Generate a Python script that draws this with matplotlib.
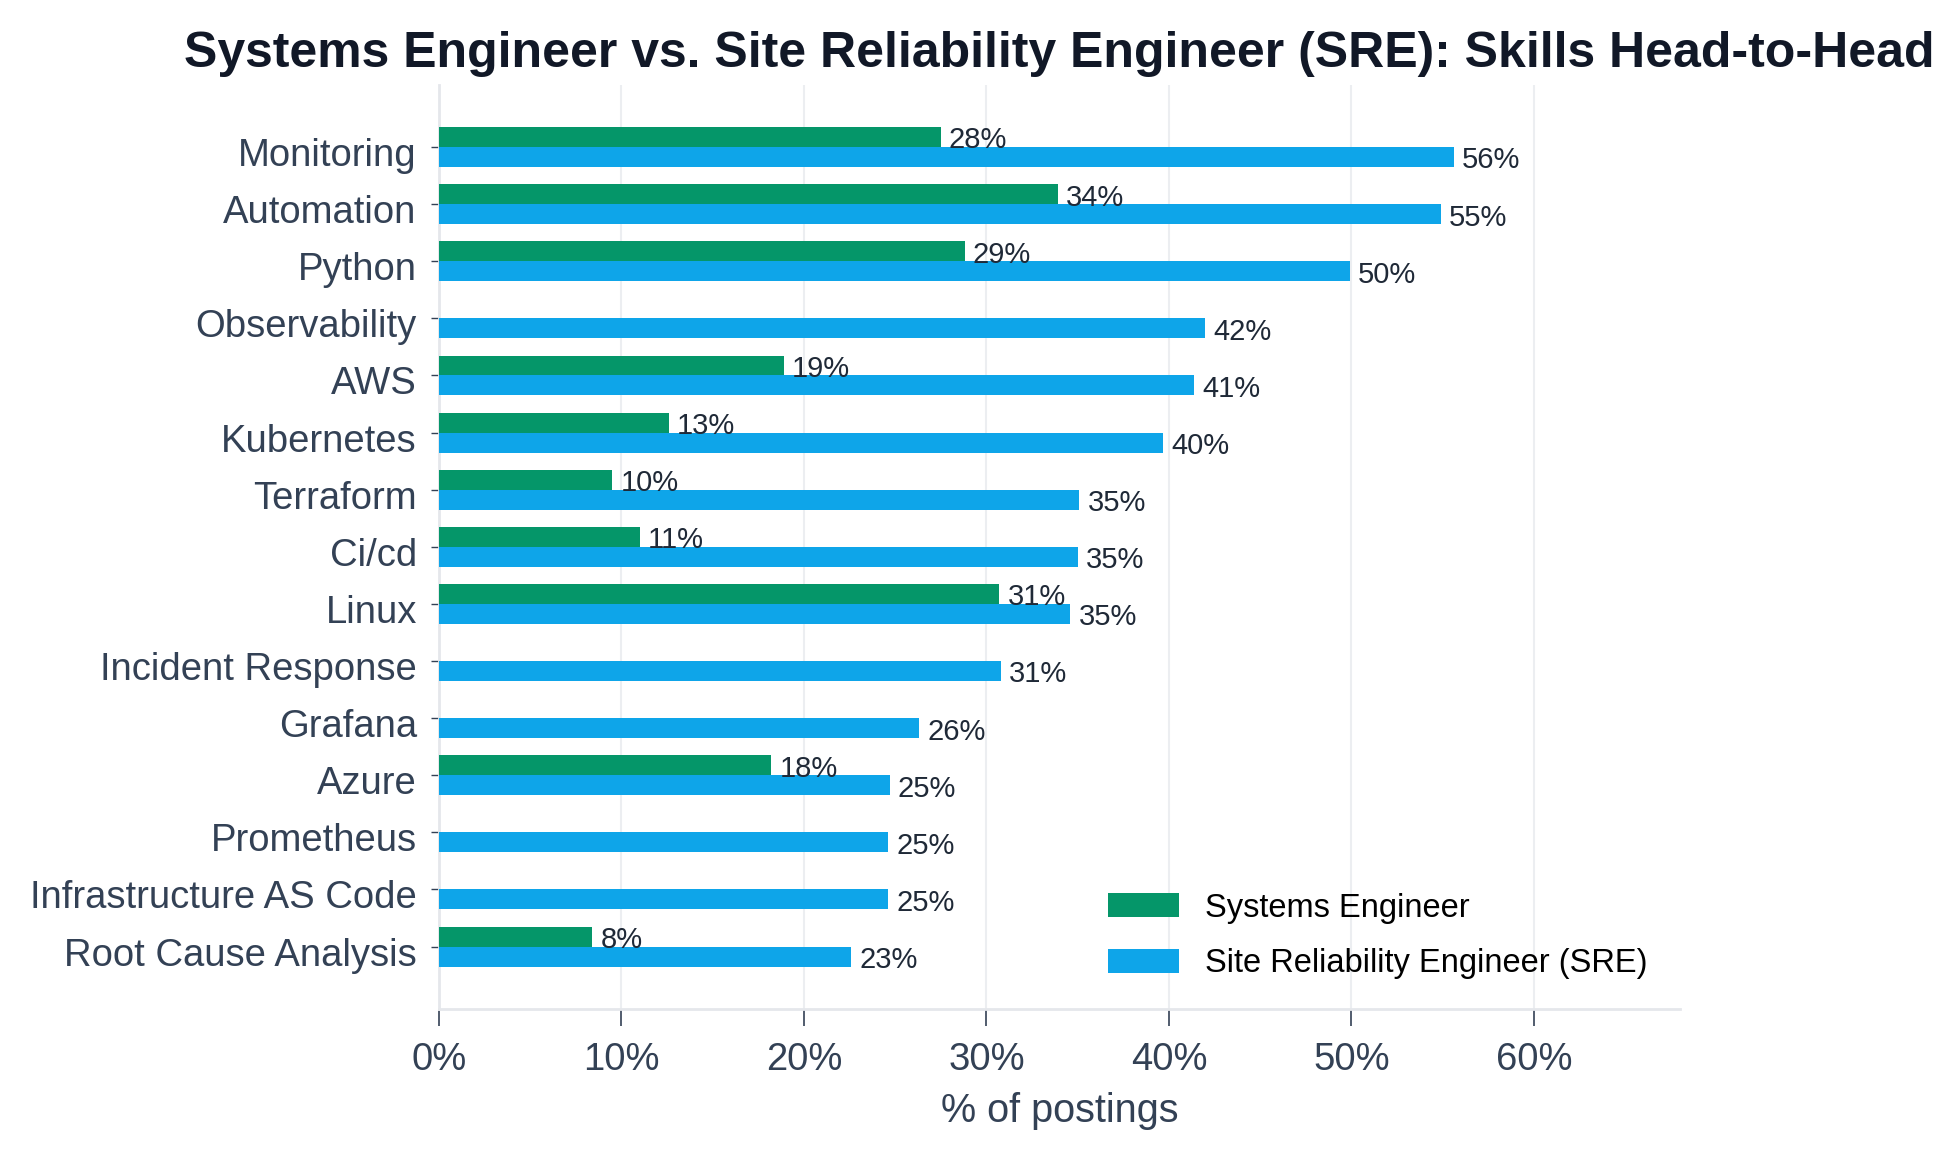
import numpy as np
import matplotlib
matplotlib.use("Agg")
import matplotlib.pyplot as plt
import matplotlib.transforms as mtransforms
from matplotlib.ticker import FuncFormatter

plt.rcParams["font.family"] = ["Liberation Sans", "DejaVu Sans"]

skills = [
    "Monitoring", "Automation", "Python", "Observability", "AWS",
    "Kubernetes", "Terraform", "Ci/cd", "Linux", "Incident Response",
    "Grafana", "Azure", "Prometheus", "Infrastructure AS Code",
    "Root Cause Analysis",
]
# None = skill not in the Systems Engineer top list
sys_eng = [27.5, 33.9, 28.8, None, 18.9, 12.6, 9.5, 11.0, 30.7, None,
           None, 18.2, None, None, 8.4]
sre = [55.6, 54.9, 49.9, 42.0, 41.4, 39.7, 35.1, 35.0, 34.6, 30.8,
       26.3, 24.7, 24.6, 24.6, 22.6]

GREEN = "#059669"
BLUE = "#0ea5e9"
TEXT = "#334155"

fig = plt.figure(figsize=(19.51, 11.5), dpi=100)
ax = fig.add_axes([0.225, 0.123, 0.636, 0.803])

y = np.arange(len(skills))
h = 0.35

sys_vals = np.array([np.nan if v is None else v for v in sys_eng])
mask = ~np.isnan(sys_vals)
ax.barh(y[mask] - h / 2, sys_vals[mask], height=h, color=GREEN,
        label="Systems Engineer", zorder=3)
ax.barh(y + h / 2, sre, height=h, color=BLUE,
        label="Site Reliability Engineer (SRE)", zorder=3)

for yi, v in zip(y[mask], sys_vals[mask]):
    ax.text(v + 0.45, yi - h / 2 + 0.06, f"{v:.0f}%", va="center", ha="left",
            fontsize=21, color="#1f2937", zorder=4)
for yi, v in zip(y, sre):
    ax.text(v + 0.45, yi + h / 2 + 0.06, f"{v:.0f}%", va="center", ha="left",
            fontsize=21, color="#1f2937", zorder=4)

ax.set_yticks(y)
ax.set_yticklabels(skills)
ax.invert_yaxis()
ax.set_xlim(0, 68)
ax.set_xticks(np.arange(0, 61, 10))
ax.xaxis.set_major_formatter(FuncFormatter(lambda v, _: f"{v:.0f}%"))

ax.tick_params(axis="y", labelsize=27.5, labelcolor=TEXT, color=TEXT,
               length=6, width=1, pad=10)
ax.tick_params(axis="x", labelsize=27.5, labelcolor=TEXT, color=TEXT,
               length=12, width=1.2, pad=12)

# nudge y labels down a touch
shift = mtransforms.ScaledTranslation(0, -0.05, fig.dpi_scale_trans)
for lab in ax.get_yticklabels():
    lab.set_transform(lab.get_transform() + shift)

ax.grid(axis="x", color="#eceef1", linewidth=1.5, zorder=0)
ax.set_axisbelow(True)
for s in ["top", "right"]:
    ax.spines[s].set_visible(False)
for s in ["left", "bottom"]:
    ax.spines[s].set_color("#e5e7eb")
    ax.spines[s].set_linewidth(2)

ax.set_xlabel("% of postings", fontsize=28.5, color=TEXT, labelpad=10)
ax.set_title("Systems Engineer vs. Site Reliability Engineer (SRE): Skills Head-to-Head",
             fontsize=36, fontweight="bold", color="#111827", pad=13)

ax.legend(loc="lower right", bbox_to_anchor=(0.998, 0.0), frameon=False,
          fontsize=23.5, handlelength=2.2, handleheight=0.75, labelspacing=0.75,
          handletextpad=0.8)

fig.savefig("out.png", dpi=100)
